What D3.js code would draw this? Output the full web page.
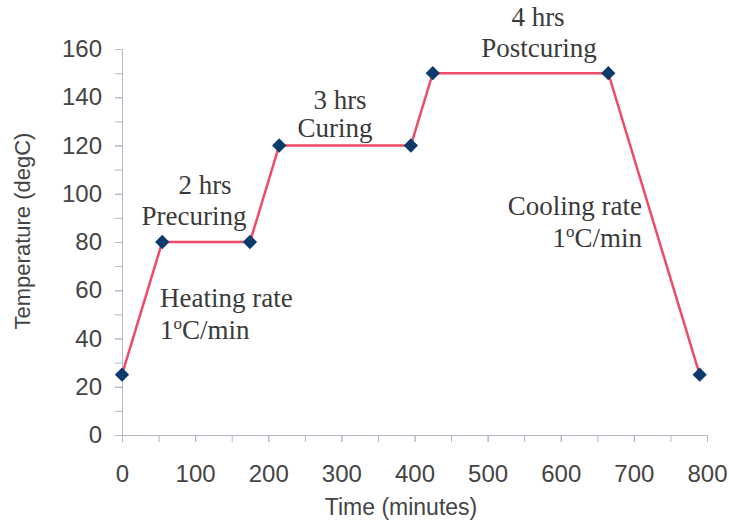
<!DOCTYPE html>
<html>
<head>
<meta charset="utf-8">
<script src="https://cdn.jsdelivr.net/npm/d3@7"></script>
<style>
  body { margin: 0; background: #fff; }
</style>
</head>
<body>
<div id="chart"></div>
<script>
const width = 729;
const height = 521;

// cure cycle: time (minutes) vs temperature (degC)
const times = [0, 55, 175, 215, 395, 425, 665, 790];
const temps = [25, 80, 80, 120, 120, 150, 150, 25];

const xTicks = [0, 100, 200, 300, 400, 500, 600, 700, 800];
const yTicks = [0, 20, 40, 60, 80, 100, 120, 140, 160];

const notes = [
  { x: 205, y: 194, anchor: "middle", text: "2 hrs" },
  { x: 194, y: 225, anchor: "middle", text: "Precuring" },
  { x: 340, y: 109, anchor: "middle", text: "3 hrs" },
  { x: 335, y: 137, anchor: "middle", text: "Curing" },
  { x: 538, y: 26, anchor: "middle", text: "4 hrs" },
  { x: 539, y: 57, anchor: "middle", text: "Postcuring" },
  { x: 160, y: 307, anchor: "start", text: "Heating rate" },
  { x: 160, y: 339, anchor: "start", text: "1", sup: "o", tail: "C/min" },
  { x: 642, y: 215, anchor: "end", text: "Cooling rate" },
  { x: 642, y: 247, anchor: "end", text: "1", sup: "o", tail: "C/min" }
];

const points = times.map((t, i) => ({ t, v: temps[i] }));

const svg = d3.select("#chart")
  .append("svg")
  .attr("width", width)
  .attr("height", height);

const x = d3.scaleLinear().domain([0, 800]).range([122, 707]);
const y = d3.scaleLinear().domain([0, 160]).range([435, 49]);

const axisColor = "#b4b6c4";
const labelColor = "#444";

// ---------------------------
// Axes (minor ticks first, then labelled ticks)
// ---------------------------
svg.append("g")
  .attr("transform", "translate(0,435)")
  .call(d3.axisBottom(x).tickValues(d3.range(0, 801, 50)).tickSize(7).tickFormat(""))
  .call(g => g.selectAll("line,path").attr("stroke", axisColor));

svg.append("g")
  .attr("transform", "translate(0,435)")
  .call(d3.axisBottom(x).tickValues(xTicks).tickSize(7).tickPadding(23))
  .call(g => g.select(".domain").remove())
  .call(g => g.selectAll("line").attr("stroke", axisColor))
  .call(g => g.selectAll("text")
    .attr("fill", labelColor)
    .attr("font-family", "Liberation Sans, Arial, sans-serif")
    .attr("font-size", 24));

svg.append("g")
  .attr("transform", "translate(122,0)")
  .call(d3.axisLeft(y).tickValues(d3.range(0, 161, 10)).tickSize(7).tickFormat(""))
  .call(g => g.selectAll("line,path").attr("stroke", axisColor));

svg.append("g")
  .attr("transform", "translate(122,0)")
  .call(d3.axisLeft(y).tickValues(yTicks).tickSize(7).tickPadding(13))
  .call(g => g.select(".domain").remove())
  .call(g => g.selectAll("line").attr("stroke", axisColor))
  .call(g => g.selectAll("text")
    .attr("fill", labelColor)
    .attr("font-family", "Liberation Sans, Arial, sans-serif")
    .attr("font-size", 24));

// axis titles
svg.append("text")
  .attr("x", 401)
  .attr("y", 515)
  .attr("text-anchor", "middle")
  .attr("fill", labelColor)
  .attr("font-family", "Liberation Sans, Arial, sans-serif")
  .attr("font-size", 23)
  .text("Time (minutes)");

svg.append("text")
  .attr("transform", "translate(30,231) rotate(-90)")
  .attr("text-anchor", "middle")
  .attr("fill", labelColor)
  .attr("font-family", "Liberation Sans, Arial, sans-serif")
  .attr("font-size", 22)
  .text("Temperature (degC)");

// ---------------------------
// Line + markers
// ---------------------------
const line = d3.line().x(d => x(d.t)).y(d => y(d.v));

svg.append("path")
  .datum(points)
  .attr("fill", "none")
  .attr("stroke", "#ef4a68")
  .attr("stroke-width", 2.5)
  .attr("d", line);

svg.append("g")
  .selectAll("path")
  .data(points)
  .join("path")
  .attr("transform", d => `translate(${x(d.t)},${y(d.v)})`)
  .attr("d", d3.symbol(d3.symbolDiamond2, 130))
  .attr("fill", "#0b3a6b");

// ---------------------------
// Annotations
// ---------------------------
const note = svg.append("g")
  .attr("font-family", "Liberation Serif, Times New Roman, serif")
  .attr("font-size", 27)
  .attr("fill", "#3a3a3a")
  .selectAll("text")
  .data(notes)
  .join("text")
  .attr("x", d => d.x)
  .attr("y", d => d.y)
  .attr("text-anchor", d => d.anchor);

note.append("tspan").text(d => d.text);
note.filter(d => d.sup).append("tspan")
  .attr("font-size", 17)
  .attr("dy", -10)
  .text(d => d.sup);
note.filter(d => d.sup).append("tspan")
  .attr("dy", 10)
  .text(d => d.tail);
</script>
</body>
</html>
